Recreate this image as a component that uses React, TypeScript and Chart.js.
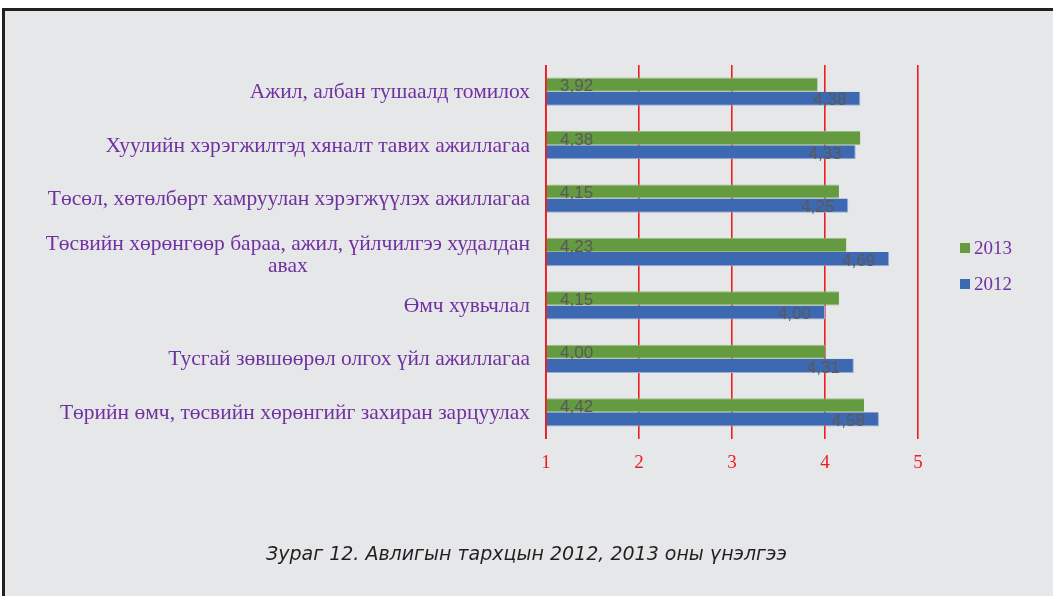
import React, { useEffect, useRef } from "react";
import { Chart, registerables } from "chart.js";

Chart.register(...registerables);

const categories: string[][] = [
  ["Ажил, албан тушаалд томилох"],
  ["Хуулийн хэрэгжилтэд хяналт тавих ажиллагаа"],
  ["Төсөл, хөтөлбөрт хамруулан хэрэгжүүлэх ажиллагаа"],
  ["Төсвийн хөрөнгөөр бараа, ажил, үйлчилгээ худалдан", "авах"],
  ["Өмч хувьчлал"],
  ["Тусгай зөвшөөрөл олгох үйл ажиллагаа"],
  ["Төрийн өмч, төсвийн хөрөнгийг захиран зарцуулах"],
];
const values2013: number[] = [3.92, 4.38, 4.15, 4.23, 4.15, 4.0, 4.42];
const values2012: number[] = [4.38, 4.33, 4.25, 4.69, 4.0, 4.31, 4.58];
const seriesNames: string[] = ["2013", "2012"];
const xTicks: number[] = [1, 2, 3, 4, 5];
const caption = "Зураг 12. Авлигын тархцын 2012, 2013 оны үнэлгээ";

const GREEN = "#659b40";
const BLUE = "#3d68b2";
const RED = "#f01c22";
const PURPLE = "#7030a0";
const SERIF = '"Liberation Serif", serif';

const labelsPlugin = {
  id: "customLabels",
  afterDatasetsDraw(chart: any) {
    const ctx = chart.ctx;
    const area = chart.chartArea;
    const x0 = chart.scales.x.getPixelForValue(xTicks[0]);
    ctx.save();
    ctx.strokeStyle = RED;
    ctx.lineWidth = 1.6;
    ctx.beginPath();
    ctx.moveTo(x0, area.top);
    ctx.lineTo(x0, area.bottom);
    ctx.stroke();
    ctx.restore();
  },
  afterDraw(chart: any) {
    const ctx = chart.ctx;
    const yScale = chart.scales.y;
    const area = chart.chartArea;
    ctx.save();
    // category labels
    ctx.font = `21.5px ${SERIF}`;
    ctx.fillStyle = PURPLE;
    ctx.textBaseline = "middle";
    const right = yScale.right - 16;
    categories.forEach((lines, i) => {
      const cy = yScale.getPixelForValue(i);
      const lh = 22;
      const widest = Math.max(...lines.map((l) => ctx.measureText(l).width));
      const startY = cy - ((lines.length - 1) * lh) / 2 + (lines.length > 1 ? 3 : 1);
      lines.forEach((line, j) => {
        if (lines.length === 1) {
          ctx.textAlign = "right";
          ctx.fillText(line, right, startY + j * lh);
        } else {
          ctx.textAlign = "center";
          ctx.fillText(line, right - widest / 2, startY + j * lh);
        }
      });
    });
    // data labels
    ctx.font = '17px "Liberation Sans", sans-serif';
    ctx.fillStyle = "#595959";
    chart.data.datasets.forEach((ds: any, di: number) => {
      const meta = chart.getDatasetMeta(di);
      meta.data.forEach((el: any, i: number) => {
        const txt = Number(ds.data[i]).toFixed(2).replace(".", ",");
        if (di === 0) {
          ctx.textAlign = "left";
          ctx.fillText(txt, Math.max(el.base, area.left) + 14, el.y + 2);
        } else {
          ctx.textAlign = "right";
          ctx.fillText(txt, el.x - 14, el.y + 2);
        }
      });
    });
    // legend
    ctx.font = `19px ${SERIF}`;
    ctx.textAlign = "left";
    chart.data.datasets.forEach((ds: any, di: number) => {
      const ly = 248 + di * 36;
      ctx.fillStyle = ds.backgroundColor;
      ctx.fillRect(960, ly - 5, 10, 10);
      ctx.fillStyle = PURPLE;
      ctx.fillText(ds.label, 974, ly + 1);
    });
    ctx.restore();
  },
};

export default function App() {
  const ref = useRef<HTMLCanvasElement>(null);
  useEffect(() => {
    if (!ref.current) return;
    const chart = new Chart(ref.current, {
      type: "bar",
      data: {
        labels: categories.map((c) => c.join(" ")),
        datasets: [
          {
            label: seriesNames[0],
            data: values2013,
            backgroundColor: GREEN,
            borderColor: "#98bb85",
            borderWidth: { top: 1, right: 0, bottom: 1, left: 0 },
            borderSkipped: false,
            categoryPercentage: 0.53,
            barPercentage: 1,
          },
          {
            label: seriesNames[1],
            data: values2012,
            backgroundColor: BLUE,
            borderColor: "#98acd4",
            borderWidth: { top: 0, right: 1, bottom: 1, left: 0 },
            borderSkipped: false,
            categoryPercentage: 0.53,
            barPercentage: 1,
          },
        ],
      },
      options: {
        indexAxis: "y",
        responsive: false,
        animation: false,
        layout: { padding: { left: 0, right: 135, top: 65, bottom: 98 } },
        plugins: { legend: { display: false }, tooltip: { enabled: false } },
        scales: {
          x: {
            type: "linear",
            min: 1,
            max: 5,
            afterBuildTicks: (scale: any) => {
              scale.ticks = xTicks.map((v) => ({ value: v }));
            },
            grid: { color: RED, lineWidth: 1.6, drawTicks: false },
            border: { display: false },
            ticks: { color: RED, font: { family: SERIF, size: 19 }, padding: 13 },
            afterFit: (scale: any) => {
              scale.height = 59;
            },
          },
          y: {
            type: "category",
            grid: { display: false },
            border: { display: false },
            ticks: { display: false },
            afterFit: (scale: any) => {
              scale.width = 546;
            },
          },
        },
      },
      plugins: [labelsPlugin],
    } as any);
    return () => chart.destroy();
  }, []);

  return (
    <div style={{ position: "fixed", left: 0, top: 0, width: 1053, height: 596, background: "#ffffff", overflow: "hidden" }}>
      <div
        style={{
          position: "absolute",
          left: 2,
          top: 8,
          width: 1100,
          height: 640,
          borderLeft: "3px solid #231f20",
          borderTop: "3px solid #231f20",
          background: "#e6e7e9",
        }}
      />
      <canvas ref={ref} width={1053} height={596} style={{ position: "absolute", left: 0, top: 0 }} />
      <div
        style={{
          position: "absolute",
          left: 0,
          width: 1053,
          top: 541,
          textAlign: "center",
          fontFamily: '"DejaVu Sans", sans-serif',
          fontStyle: "italic",
          fontSize: 19,
          color: "#231f20",
          lineHeight: "24px",
        }}
      >
        {caption}
      </div>
    </div>
  );
}
